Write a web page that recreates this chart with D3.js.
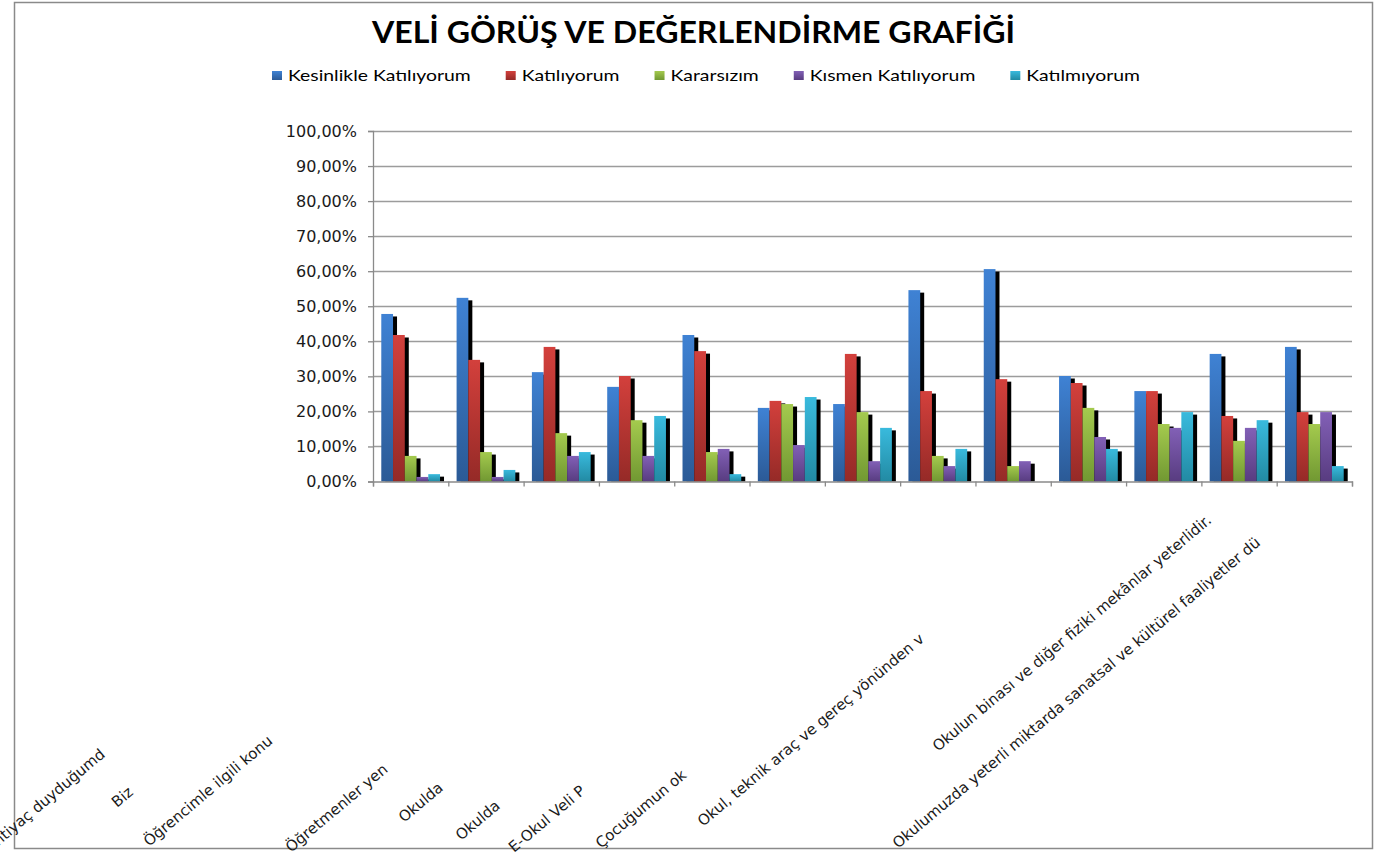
<!DOCTYPE html>
<html>
<head>
<meta charset="utf-8">
<script src="https://cdn.jsdelivr.net/npm/d3@7"></script>
<style>
    body { margin: 0; background: #fff; }
    #chart { width: 1385px; height: 858px; }
</style>
</head>
<body>
<div id="chart"></div>
<script>
// series names (legend order)
var seriesNames = ['Kesinlikle Katılıyorum', 'Katılıyorum', 'Kararsızım', 'Kısmen Katılıyorum', 'Katılmıyorum'];

// questions 1..13
var questions = ['1', '2', '3', '4', '5', '6', '7', '8', '9', '10', '11', '12', '13'];

// percentages per question
var kesinlikleKatiliyorum = [47.8, 52.4, 31.2, 27.0, 41.8, 21.0, 22.1, 54.6, 60.6, 30.1, 25.8, 36.4, 38.4];
var katiliyorum           = [41.8, 34.7, 38.4, 30.1, 37.2, 23.0, 36.4, 25.8, 29.2, 28.1, 25.8, 18.7, 19.8];
var kararsizim            = [7.3, 8.4, 13.8, 17.5, 8.4, 22.1, 19.8, 7.3, 4.4, 21.0, 16.4, 11.6, 16.4];
var kismenKatiliyorum     = [1.3, 1.3, 7.3, 7.3, 9.3, 10.4, 5.8, 4.4, 5.8, 12.7, 15.3, 15.3, 19.8];
var katilmiyorum          = [2.1, 3.3, 8.4, 18.7, 2.1, 24.1, 15.3, 9.3, 0, 9.3, 19.8, 17.5, 4.4];

var yTicks = [0, 10, 20, 30, 40, 50, 60, 70, 80, 90, 100];

// the (cut off) category texts as they show under the axis
var axisLabels = [
    'ihtiyaç duyduğumd',
    'Biz',
    'Öğrencimle ilgili konu',
    'Öğretmenler yen',
    'Okulda',
    'Okulda',
    'E-Okul Veli P',
    'Çocuğumun ok',
    'Okul, teknik araç ve gereç yönünden v',
    'Okulun binası ve diğer fiziki mekânlar yeterlidir.',
    'Okulumuzda yeterli miktarda sanatsal ve kültürel faaliyetler dü'
];

function BarChart(series) {
    var self = this;
    self.series = series;
    self.init();
};

BarChart.prototype.init = function () {
    var self = this;

    self.svgWidth = 1385;
    self.svgHeight = 858;
    self.plot = {left: 373, right: 1352, top: 131, bottom: 481.5};
    self.colors = [
        ['#3f82d4', '#2b5a96'],
        ['#d3403c', '#952a27'],
        ['#a4ca4e', '#719832'],
        ['#8260b6', '#583c80'],
        ['#39badd', '#228aa3']
    ];
    // where the rotated category texts start (baseline start point)
    self.labelAnchors = [[-5, 849], [117, 808], [149, 847], [291, 853], [404, 823], [461, 841],
                         [514, 853], [601, 849], [703, 827], [938, 752], [898, 849]];

    self.svg = d3.select('#chart')
        .append('svg')
        .attr('width', self.svgWidth)
        .attr('height', self.svgHeight);

    var defs = self.svg.append('defs');
    self.colors.forEach(function (c, i) {
        var g = defs.append('linearGradient')
            .attr('id', 'grad' + i)
            .attr('x1', 0).attr('y1', 0).attr('x2', 0).attr('y2', 1);
        g.append('stop').attr('offset', '0%').attr('stop-color', c[0]);
        g.append('stop').attr('offset', '100%').attr('stop-color', c[1]);
    });
};

BarChart.prototype.update = function () {
    var self = this;
    var p = self.plot;

    // outer frame
    self.svg.append('rect')
        .attr('x', 14.5).attr('y', 2.5)
        .attr('width', 1358).attr('height', 846)
        .attr('fill', 'none')
        .attr('stroke', '#8a8a8a')
        .attr('stroke-width', 1.5);

    self.svg.append('text')
        .text('VELİ GÖRÜŞ VE DEĞERLENDİRME GRAFİĞİ')
        .attr('x', 372)
        .attr('y', 43)
        .attr('textLength', 643)
        .attr('lengthAdjust', 'spacingAndGlyphs')
        .style('font-family', 'Lato, sans-serif')
        .style('font-weight', 'bold')
        .style('font-size', '30px')
        .attr('fill', '#000');

    var yScale = d3.scaleLinear()
        .domain([0, 100])
        .range([p.bottom, p.top]);

    var xScale = d3.scaleBand()
        .domain(questions)
        .range([p.left, p.right]);

    var bw = xScale.bandwidth();
    var innerScale = d3.scaleBand()
        .domain(d3.range(self.series.length))
        .range([bw * 0.11, bw * 0.89]);

    var edgeScale = d3.scaleLinear()
        .domain([0, questions.length])
        .range([p.left, p.right]);

    // gridlines
    self.svg.append('g')
        .selectAll('line')
        .data(yTicks.slice(1))
        .enter()
        .append('line')
        .attr('x1', p.left)
        .attr('x2', p.right)
        .attr('y1', function (d) { return Math.round(yScale(d)) + 0.5; })
        .attr('y2', function (d) { return Math.round(yScale(d)) + 0.5; })
        .attr('stroke', '#9c9c9c')
        .attr('stroke-width', 1.6);

    var locale = d3.formatLocale({decimal: ',', thousands: '.', grouping: [3], currency: ['', '']});
    var fmt = locale.format('.2f');

    var yAxis = d3.axisLeft(yScale)
        .tickValues(yTicks)
        .tickSize(5)
        .tickPadding(11)
        .tickFormat(function (d) { return fmt(d) + '%'; });

    var yAxisGroup = self.svg.append('g')
        .attr('transform', 'translate(' + p.left + ',0)')
        .call(yAxis);
    yAxisGroup.selectAll('path, line').attr('stroke', '#8a8a8a').attr('stroke-width', 1.3);
    yAxisGroup.selectAll('text')
        .style('font-family', 'DejaVu Sans, Verdana, sans-serif')
        .style('font-size', '16px')
        .attr('fill', '#1a1a1a');

    // shadows first, bars on top
    var groups = self.svg.append('g').selectAll('g')
        .data(self.series)
        .enter()
        .append('g');

    groups.selectAll('rect.shadow')
        .data(function (s, si) {
            return s.values.map(function (v, qi) { return {s: si, q: questions[qi], v: v}; });
        })
        .enter()
        .append('rect')
        .attr('class', 'shadow')
        .attr('x', function (d) { return xScale(d.q) + innerScale(d.s) + 4; })
        .attr('y', function (d) { return yScale(d.v) + 2.5; })
        .attr('width', innerScale.bandwidth())
        .attr('height', function (d) { return Math.max(0, p.bottom - yScale(d.v) - 2.5); })
        .attr('fill', '#000');

    var barGroups = self.svg.append('g').selectAll('g')
        .data(self.series)
        .enter()
        .append('g');

    barGroups.selectAll('rect.bar')
        .data(function (s, si) {
            return s.values.map(function (v, qi) { return {s: si, q: questions[qi], v: v}; });
        })
        .enter()
        .append('rect')
        .attr('class', 'bar')
        .attr('x', function (d) { return xScale(d.q) + innerScale(d.s); })
        .attr('y', function (d) { return yScale(d.v); })
        .attr('width', innerScale.bandwidth())
        .attr('height', function (d) { return p.bottom - yScale(d.v); })
        .attr('fill', function (d) { return 'url(#grad' + d.s + ')'; });

    var xAxis = d3.axisBottom(edgeScale)
        .tickValues(d3.range(questions.length + 1))
        .tickSize(5)
        .tickFormat('');

    var xAxisGroup = self.svg.append('g')
        .attr('transform', 'translate(0,' + p.bottom + ')')
        .call(xAxis);
    xAxisGroup.selectAll('path, line').attr('stroke', '#8a8a8a').attr('stroke-width', 1.3);

    // rotated category texts
    self.svg.append('g')
        .selectAll('text')
        .data(axisLabels)
        .enter()
        .append('text')
        .text(function (d) { return d; })
        .attr('transform', function (d, i) {
            var a = self.labelAnchors[i];
            return 'translate(' + a[0] + ',' + a[1] + ') rotate(-40)';
        })
        .style('font-family', 'DejaVu Sans, Verdana, sans-serif')
        .style('font-size', '15px')
        .attr('fill', '#1a1a1a');

    self.drawLegend();
};

BarChart.prototype.drawLegend = function () {
    var self = this;
    var x = 272;
    var legend = self.svg.append('g');

    self.series.forEach(function (s, i) {
        legend.append('rect')
            .attr('x', x)
            .attr('y', 71)
            .attr('width', 10)
            .attr('height', 9)
            .attr('fill', 'url(#grad' + i + ')');

        var t = legend.append('text')
            .text(s.name)
            .attr('x', x + 16)
            .attr('y', 81)
            .style('font-family', 'Lato, sans-serif')
            .style('font-size', '15px')
            .attr('fill', '#000');
        var w = t.node().getComputedTextLength() * 1.29;
        t.attr('textLength', w).attr('lengthAdjust', 'spacingAndGlyphs');
        x = x + 16 + w + 35;
    });
};

var chart = new BarChart([
    {name: seriesNames[0], values: kesinlikleKatiliyorum},
    {name: seriesNames[1], values: katiliyorum},
    {name: seriesNames[2], values: kararsizim},
    {name: seriesNames[3], values: kismenKatiliyorum},
    {name: seriesNames[4], values: katilmiyorum}
]);
chart.update();
</script>
</body>
</html>
